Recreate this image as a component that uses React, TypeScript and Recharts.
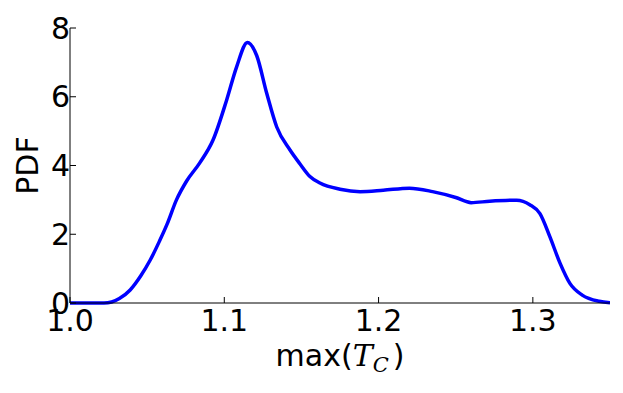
import React from "react";
import { Line, LineChart, XAxis, YAxis } from "recharts";

const tcValues = [
  1.0, 1.022, 1.027, 1.032, 1.039, 1.046, 1.052, 1.058, 1.063, 1.069, 1.0756, 1.084, 1.0927,
  1.1015, 1.108, 1.115, 1.121, 1.1275, 1.134, 1.1426, 1.149, 1.1555, 1.162, 1.175, 1.188,
  1.203, 1.22, 1.235, 1.25, 1.26, 1.272, 1.2895, 1.298, 1.3046, 1.311, 1.3176, 1.324,
  1.332, 1.343, 1.35
];
const pdfValues = [
  0, 0, 0.03, 0.13, 0.38, 0.8, 1.25, 1.8, 2.3, 3.0, 3.55, 4.07, 4.74, 5.9, 6.87, 7.58, 7.2,
  6.1, 5.12, 4.45, 4.05, 3.68, 3.49, 3.31, 3.24, 3.28, 3.34, 3.24, 3.07, 2.92, 2.96, 2.99,
  2.86, 2.6, 1.93, 1.16, 0.57, 0.23, 0.05, 0.01
];
const xTicks = [1.0, 1.1, 1.2, 1.3];
const yTicks = [0, 2, 4, 6, 8];

const data = tcValues.map((x, i) => ({ x, pdf: pdfValues[i] }));

const font = "'DejaVu Sans', sans-serif";
const tickStyle = { fontSize: 30, fontFamily: font, fill: "#000" };
const noLabel = () => <g />;

const XLabel = ({ viewBox }: any) => {
  const cx = viewBox.x + viewBox.width / 2;
  return (
    <text x={cx} y={366} textAnchor="middle" fontSize={30} fontFamily={font} fill="#000">
      max(
      <tspan fontFamily="'DejaVu Serif', serif" fontStyle="italic">T</tspan>
      <tspan fontFamily="'DejaVu Serif', serif" fontStyle="italic" fontSize={21} dy={6}>C</tspan>
      <tspan dy={-6} dx={4}>)</tspan>
    </text>
  );
};

const YLabel = ({ viewBox }: any) => {
  const cy = viewBox.y + viewBox.height / 2;
  return (
    <text
      x={38}
      y={cy}
      transform={`rotate(-90, 38, ${cy})`}
      textAnchor="middle"
      fontSize={30}
      fontFamily={font}
      fill="#000"
    >
      PDF
    </text>
  );
};

export default function App() {
  return (
    <div style={{ position: "absolute", left: 0, top: 0, width: 623, height: 393, background: "#fff" }}>
      <LineChart width={623} height={393} data={data} margin={{ top: 28, right: 13, bottom: 60, left: 10 }}>
        <XAxis
          xAxisId="b"
          dataKey="x"
          type="number"
          domain={[1.0, 1.35]}
          ticks={xTicks}
          tickFormatter={(v: number) => v.toFixed(1)}
          height={30}
          tickSize={-6}
          tickMargin={13}
          tick={tickStyle}
          stroke="#000"
          allowDataOverflow
          label={{ content: <XLabel /> } as any}
        />
        <XAxis
          xAxisId="t"
          orientation="top"
          dataKey="x"
          type="number"
          domain={[1.0, 1.35]}
          ticks={xTicks}
          height={0}
          tickSize={-6}
          tick={noLabel}
          stroke="#000"
        />
        <YAxis
          yAxisId="l"
          type="number"
          domain={[0, 8]}
          ticks={yTicks}
          width={60}
          tickSize={-6}
          tickMargin={6}
          tick={tickStyle}
          stroke="#000"
          label={{ content: <YLabel /> } as any}
        />
        <YAxis
          yAxisId="r"
          orientation="right"
          type="number"
          domain={[0, 8]}
          ticks={yTicks}
          width={0}
          tickSize={-6}
          tick={noLabel}
          stroke="#000"
        />
        <Line
          xAxisId="b"
          yAxisId="l"
          type="monotone"
          dataKey="pdf"
          stroke="#0000ff"
          strokeWidth={3.5}
          dot={false}
          activeDot={false}
          isAnimationActive={false}
        />
      </LineChart>
    </div>
  );
}
